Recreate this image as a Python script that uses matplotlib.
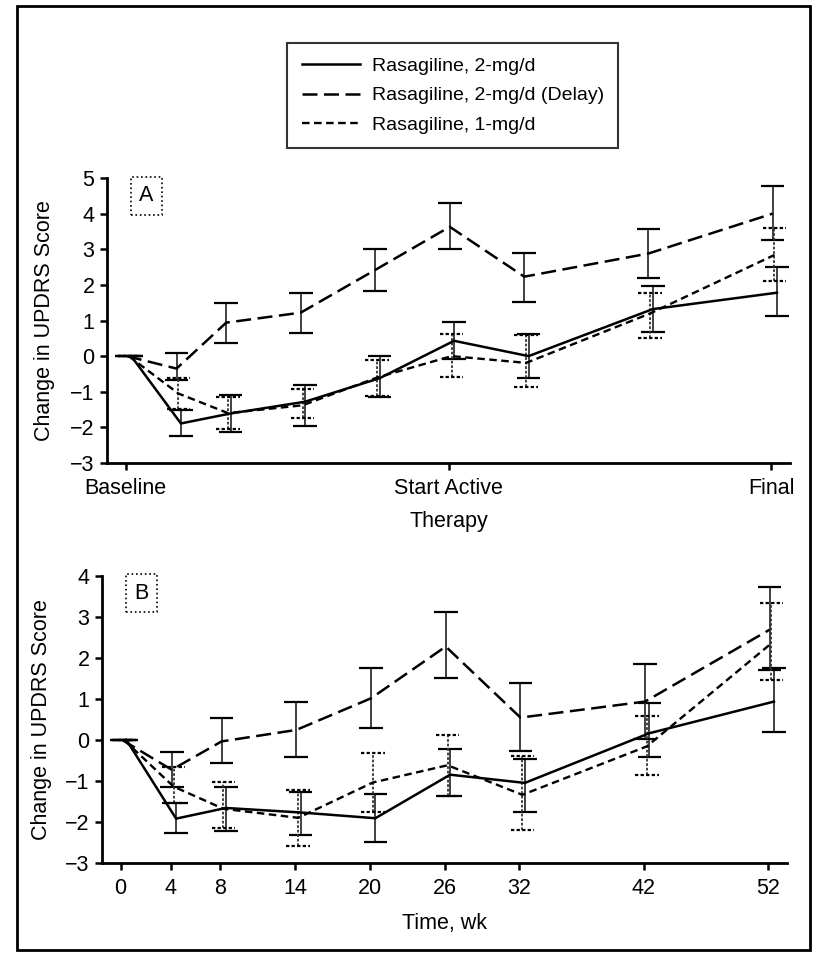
import matplotlib
matplotlib.use("Agg")
import matplotlib.pyplot as plt
from matplotlib.lines import Line2D
from matplotlib.patches import Rectangle

plt.rcParams['font.family'] = ['Liberation Sans', 'DejaVu Sans']

weeks = [0, 4, 8, 14, 20, 26, 32, 42, 52]
a_ticks = [0, 26, 52]
a_ticklabels = ["Baseline", "Start Active\nTherapy", "Final"]
b_ticks = [0, 4, 8, 14, 20, 26, 32, 42, 52]

labels = ["Rasagiline, 2-mg/d", "Rasagiline, 2-mg/d (Delay)", "Rasagiline, 1-mg/d"]

# panel A: mean and error bar ends
a_2mg = [0, -1.89, -1.61, -1.28, -0.62, 0.43, 0.0, 1.32, 1.78]
a_2mg_lo = [0, -2.25, -2.13, -1.96, -1.15, -0.07, -0.60, 0.68, 1.13]
a_2mg_hi = [0, -1.52, -1.10, -0.80, 0.0, 0.96, 0.62, 1.97, 2.51]

a_delay = [0, -0.35, 0.94, 1.22, 2.42, 3.63, 2.23, 2.88, 4.00]
a_delay_lo = [0, -0.67, 0.37, 0.64, 1.82, 3.00, 1.53, 2.18, 3.26]
a_delay_hi = [0, 0.08, 1.48, 1.78, 3.00, 4.31, 2.90, 3.57, 4.78]

a_1mg = [0, -1.05, -1.60, -1.38, -0.60, 0.0, -0.19, 1.20, 2.84]
a_1mg_lo = [0, -1.48, -2.05, -1.75, -1.12, -0.58, -0.88, 0.50, 2.12]
a_1mg_hi = [0, -0.62, -1.15, -0.91, -0.10, 0.62, 0.60, 1.76, 3.59]

# panel B
b_2mg = [0, -1.92, -1.66, -1.77, -1.91, -0.85, -1.05, 0.16, 0.93]
b_2mg_lo = [0, -2.26, -2.23, -2.31, -2.50, -1.38, -1.76, -0.42, 0.20]
b_2mg_hi = [0, -1.54, -1.14, -1.26, -1.31, -0.22, -0.46, 0.89, 1.74]

b_delay = [0, -0.73, -0.04, 0.24, 1.01, 2.27, 0.54, 0.93, 2.68]
b_delay_lo = [0, -1.16, -0.57, -0.42, 0.28, 1.50, -0.28, 0.02, 1.70]
b_delay_hi = [0, -0.30, 0.54, 0.91, 1.74, 3.10, 1.38, 1.84, 3.73]

b_1mg = [0, -1.14, -1.68, -1.90, -1.04, -0.62, -1.34, -0.16, 2.35]
b_1mg_lo = [0, -1.54, -2.15, -2.58, -1.77, -1.38, -2.19, -0.85, 1.46]
b_1mg_hi = [0, -0.67, -1.04, -1.23, -0.31, 0.12, -0.40, 0.59, 3.33]

styles = [
    dict(ls='-', lw=1.8, off=0.45, ebls='-'),
    dict(ls=(0, (6, 2.6)), lw=1.8, off=0.1, ebls='-'),
    dict(ls=(0, (3.2, 1.9)), lw=1.7, off=0.25, ebls=(0, (1.5, 1))),
]

fs = 15.5


def draw_panel(ax, series, ylim, yticks, label_x):
    for (y, lo, hi), st in zip(series, styles):
        x = [w + st['off'] for w in weeks]
        ax.plot(x, y, color='black', ls=st['ls'], lw=st['lw'], zorder=3)
        ax.vlines(x, lo, hi, color='0.2', lw=1.3, linestyles=st['ebls'], zorder=2)
        for ends in (lo, hi):
            ax.hlines(ends, [v - 0.95 for v in x], [v + 0.95 for v in x],
                      color='black', lw=1.6, linestyles=st['ebls'], zorder=2)
    ax.set_xlim(-1.5, 53.5)
    ax.set_ylim(*ylim)
    ax.set_yticks(yticks)
    ax.spines['top'].set_visible(False)
    ax.spines['right'].set_visible(False)
    ax.spines['left'].set_linewidth(2)
    ax.spines['bottom'].set_linewidth(2)
    ax.tick_params(width=1.8, length=5, labelsize=fs, pad=4)
    ax.set_yticklabels([str(t).replace('-', '\u2212') for t in yticks])
    ax.set_ylabel("Change in UPDRS Score", fontsize=fs)
    ax.yaxis.set_label_coords(label_x, 0.5)


fig = plt.figure(figsize=(8.13, 9.65), dpi=100)

axA = fig.add_axes([107 / 813, 1 - 463 / 965, 683 / 813, 285 / 965])
draw_panel(axA, [(a_2mg, a_2mg_lo, a_2mg_hi),
                 (a_delay, a_delay_lo, a_delay_hi),
                 (a_1mg, a_1mg_lo, a_1mg_hi)], (-3, 5), list(range(-3, 6)), -0.076)
axA.set_xticks(a_ticks)
axA.set_xticklabels(a_ticklabels, linespacing=1.75)
axA.tick_params(axis='x', pad=6)
axA.text(0.058, 0.975, "A", transform=axA.transAxes, fontsize=fs, ha='center', va='top',
         bbox=dict(boxstyle='square,pad=0.4', fc='white', ec='black', ls=':', lw=1.2))

axB = fig.add_axes([102 / 813, 1 - 863 / 965, 685 / 813, 287.5 / 965])
draw_panel(axB, [(b_2mg, b_2mg_lo, b_2mg_hi),
                 (b_delay, b_delay_lo, b_delay_hi),
                 (b_1mg, b_1mg_lo, b_1mg_hi)], (-3, 4), list(range(-3, 5)), -0.073)
axB.set_xticks(b_ticks)
axB.set_xticklabels([str(t) for t in b_ticks])
axB.tick_params(axis='x', pad=6)
axB.set_xlabel("Time, wk", fontsize=fs, labelpad=10)
axB.text(0.058, 0.975, "B", transform=axB.transAxes, fontsize=fs, ha='center', va='top',
         bbox=dict(boxstyle='square,pad=0.4', fc='white', ec='black', ls=':', lw=1.2))

handles = [Line2D([], [], color='black', ls=st['ls'], lw=st['lw']) for st in styles]
leg = fig.legend(handles, labels, loc='upper left', bbox_to_anchor=(287 / 813, 1 - 43 / 965),
                 fontsize=14, frameon=True, fancybox=False, handlelength=3.0,
                 handletextpad=0.6, labelspacing=0.6, borderpad=0.75, borderaxespad=0)
leg.get_frame().set_edgecolor('black')
leg.get_frame().set_linewidth(1.5)

fig.patches.append(Rectangle((17 / 813, 1 - 950 / 965), 793 / 813, 944 / 965,
                             transform=fig.transFigure, fill=False, ec='black', lw=2))

fig.savefig("out.png", dpi=100)
